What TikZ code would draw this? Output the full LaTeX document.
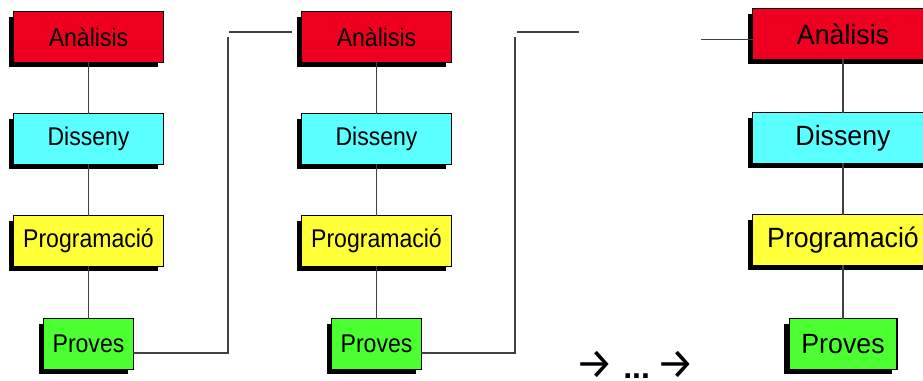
\documentclass[tikz,border=0pt]{standalone}
\usepackage{fontspec}
\setmainfont{Liberation Sans}
\newfontfamily\boxfont[FakeStretch=0.9]{Liberation Sans}
\newfontfamily\bigboxfont[FakeStretch=0.96]{Liberation Sans}
\newfontfamily\arrowfont{Fira Sans}
\usetikzlibrary{positioning,calc,shadows}
\definecolor{anared}{RGB}{240,0,32}
\definecolor{discyan}{RGB}{90,255,255}
\definecolor{progyellow}{RGB}{255,255,56}
\definecolor{provgreen}{RGB}{76,255,48}
\tikzset{BOX/.style={rectangle, draw, line width=0.9pt, inner sep=0pt, outer sep=0pt, minimum height=38.1pt,
    font=\boxfont\fontsize{19.2}{22}\selectfont,
    drop shadow={shadow xshift=-3.75pt, shadow yshift=-3.75pt, fill=black, opacity=1}}}
\tikzset{BIGBOX/.style={BOX, font=\bigboxfont\fontsize{20.9}{24}\selectfont}}
\tikzset{LINK/.style={line width=0.9pt, draw=black!75}}
\newcommand{\nextarrow}{{\arrowfont\fontsize{32}{36}\selectfont →}}

\begin{document}
\begin{tikzpicture}[x=0.75pt, y=-0.75pt]
    \useasboundingbox (0,0) rectangle (923,380);

    % first pass
    \node[BOX, fill=anared, minimum width=112.35pt] (n_ana1) at (88.5,37) {Anàlisis};
    \node[BOX, fill=discyan, minimum width=112.35pt, below=38.4pt of n_ana1] (n_dis1) {Disseny};
    \node[BOX, fill=progyellow, minimum width=112.35pt, below=38.4pt of n_dis1] (n_prog1) {Programació};
    \node[BOX, fill=provgreen, minimum width=67.35pt, below=39.1pt of n_prog1] (n_prov1) {Proves};

    % second pass
    \node[BOX, fill=anared, minimum width=112.35pt] (n_ana2) at (376.5,37) {Anàlisis};
    \node[BOX, fill=discyan, minimum width=112.35pt, below=38.4pt of n_ana2] (n_dis2) {Disseny};
    \node[BOX, fill=progyellow, minimum width=112.35pt, below=38.4pt of n_dis2] (n_prog2) {Programació};
    \node[BOX, fill=provgreen, minimum width=67.35pt, below=39.1pt of n_prog2] (n_prov2) {Proves};

    % last pass, drawn larger
    \node[BIGBOX, fill=anared, minimum width=135.6pt] (n_ana3) at (843,34) {Anàlisis};
    \node[BIGBOX, fill=discyan, minimum width=135.6pt, below=39.9pt of n_ana3] (n_dis3) {Disseny};
    \node[BIGBOX, fill=progyellow, minimum width=135.6pt, below=38.4pt of n_dis3] (n_prog3) {Programació};
    \node[BIGBOX, fill=provgreen, minimum width=80.85pt, below=39.9pt of n_prog3] (n_prov3) {Proves};

    \foreach \i in {1,2,3} {
        \draw[LINK] (n_ana\i) -- (n_dis\i);
        \draw[LINK] (n_dis\i) -- (n_prog\i);
        \draw[LINK] (n_prog\i) -- (n_prov\i);
    }

    % feedback from Proves to the next Analisis
    \coordinate (turn1) at (228,353);
    \coordinate (up1) at (228,37);
    \draw[LINK] (n_prov1.east |- turn1) -- (turn1) -- (up1);
    \coordinate (in2) at (229,32);
    \draw[LINK] (in2) -- ($(n_ana2.west |- in2)+(-10,0)$);

    \coordinate (turn2) at (515,353);
    \coordinate (up2) at (515,37);
    \draw[LINK] (n_prov2.east |- turn2) -- (turn2) -- (up2);
    \coordinate (in2b) at (517,32);
    \draw[LINK] (in2b) -- +(62,0);

    \coordinate (in3) at (701,39.5);
    \draw[LINK] (in3) -- (n_ana3.west |- in3);

    \node[anchor=base, inner sep=0pt, font=\fontsize{24}{28}\selectfont] (n_etc) at (635,378)
        {\nextarrow\hspace{0.3em}\textbf{...}\hspace{0.2em}\nextarrow};
\end{tikzpicture}
\end{document}
